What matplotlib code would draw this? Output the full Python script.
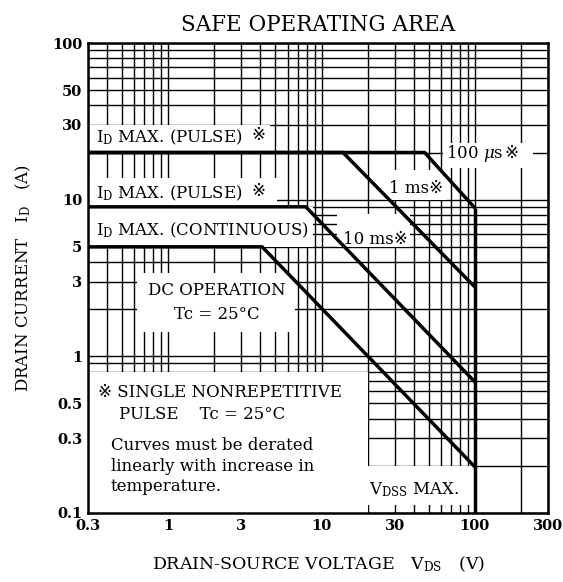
import matplotlib
matplotlib.use('Agg')
import matplotlib.pyplot as plt
from matplotlib.patches import Rectangle
from matplotlib.ticker import FixedLocator, NullFormatter

plt.rcParams['font.family'] = ['DejaVu Serif', 'DejaVu Sans']
plt.rcParams['mathtext.fontset'] = 'custom'
plt.rcParams['mathtext.rm'] = 'DejaVu Serif'
plt.rcParams['mathtext.it'] = 'DejaVu Serif:italic'

# limit lines (V, A)
v_100us = [0.3, 47, 100]
i_100us = [20, 20, 8.85]
v_1ms = [0.3, 13.8, 100]
i_1ms = [20, 20, 2.77]
v_10ms = [0.3, 7.9, 100]
i_10ms = [9, 9, 0.687]
v_dc = [0.3, 4.1, 100]
i_dc = [5, 5, 0.197]
v_vdss = [100, 100]
i_vdss = [8.85, 0.1]

x_ticks = [0.3, 1, 3, 10, 30, 100, 300]
x_labels = ['0.3', '1', '3', '10', '30', '100', '300']
y_ticks = [0.1, 0.3, 0.5, 1, 3, 5, 10, 30, 50, 100]
y_labels = ['0.1', '0.3', '0.5', '1', '3', '5', '10', '30', '50', '100']

# white label areas (v0, v1, i0, i1)
boxes = [
    (0.3, 4.6, 20, 30),
    (0.3, 5.1, 9, 13.7),
    (0.3, 8.8, 5, 9),
    (12.6, 37.8, 5, 8.1),
    (26, 66, 10, 15.5),
    (62, 240, 15.9, 23),
    (0.63, 6.7, 1.43, 3.4),
    (0.3, 20, 0.1, 0.8),
    (20, 98, 0.113, 0.2),
]

fig = plt.figure(figsize=(5.63, 5.82), dpi=100)
ax = fig.add_axes([0.1563, 0.1186, 0.8171, 0.8075])
ax.set_xscale('log')
ax.set_yscale('log')
ax.set_xlim(0.3, 300)
ax.set_ylim(0.1, 100)

minor = [m * 10.0 ** e for e in range(-2, 3) for m in range(1, 10)]
ax.xaxis.set_major_locator(FixedLocator(x_ticks))
ax.yaxis.set_major_locator(FixedLocator(y_ticks))
ax.xaxis.set_minor_locator(FixedLocator(minor))
ax.yaxis.set_minor_locator(FixedLocator(minor))
ax.xaxis.set_minor_formatter(NullFormatter())
ax.yaxis.set_minor_formatter(NullFormatter())
ax.set_xticklabels(x_labels, fontweight='bold', fontsize=10.5)
ax.set_yticklabels(y_labels, fontweight='bold', fontsize=10.5)
ax.tick_params(which='both', length=0, pad=4)
ax.set_axisbelow(True)
ax.grid(which='both', color='black', linewidth=1.0)
for s in ax.spines.values():
    s.set_linewidth(1.8)

for v0, v1, i0, i1 in boxes:
    ax.add_patch(Rectangle((v0, i0), v1 - v0, i1 - i0, facecolor='white',
                           edgecolor='none', zorder=1))

for v, i in [(v_100us, i_100us), (v_1ms, i_1ms), (v_10ms, i_10ms),
             (v_dc, i_dc), (v_vdss, i_vdss)]:
    ax.plot(v, i, color='black', linewidth=2.5, zorder=3, solid_capstyle='butt')

fs = 12
ax.text(0.338, 25.1, r'I$_{\rm D}$ MAX. (PULSE)', fontsize=fs, va='center', zorder=4)
ax.text(3.85, 25.6, '※', fontsize=fs, ha='center', va='center', zorder=4)
ax.text(0.338, 11.0, r'I$_{\rm D}$ MAX. (PULSE)', fontsize=fs, va='center', zorder=4)
ax.text(3.85, 11.3, '※', fontsize=fs, ha='center', va='center', zorder=4)
ax.text(0.338, 6.4, r'I$_{\rm D}$ MAX. (CONTINUOUS)', fontsize=fs, va='center', zorder=4)
ax.text(22.4, 5.6, '10 ms※', fontsize=fs, ha='center', va='center', zorder=4)
ax.text(41.5, 11.7, '1 ms※', fontsize=fs, ha='center', va='center', zorder=4)
ax.text(153, 19.6, r'100 $\mu$s', fontsize=fs, ha='right', va='center', zorder=4)
ax.text(173, 19.8, '※', fontsize=fs, ha='center', va='center', zorder=4)
ax.text(2.08, 2.65, 'DC OPERATION', fontsize=fs, ha='center', va='center', zorder=4)
ax.text(2.08, 1.84, 'Tc = 25°C', fontsize=fs, ha='center', va='center', zorder=4)
ax.text(0.349, 0.584, '※ SINGLE NONREPETITIVE', fontsize=fs, va='center', zorder=4)
ax.text(0.478, 0.423, 'PULSE    Tc = 25°C', fontsize=fs, va='center', zorder=4)
ax.text(0.424, 0.268, 'Curves must be derated', fontsize=fs, va='center', zorder=4)
ax.text(0.424, 0.197, 'linearly with increase in', fontsize=fs, va='center', zorder=4)
ax.text(0.424, 0.147, 'temperature.', fontsize=fs, va='center', zorder=4)
ax.text(20.5, 0.14, r'V$_{\rm DSS}$ MAX.', fontsize=fs, va='center', zorder=4)

ax.set_title('SAFE OPERATING AREA', fontsize=15.5, pad=9)
ax.set_xlabel(r'DRAIN-SOURCE VOLTAGE   V$_{\rm DS}$   (V)', fontsize=12.5, labelpad=16)
ax.set_ylabel(r'DRAIN CURRENT   I$_{\rm D}$   (A)', fontsize=12, labelpad=14)

fig.savefig('out.png', dpi=100)
